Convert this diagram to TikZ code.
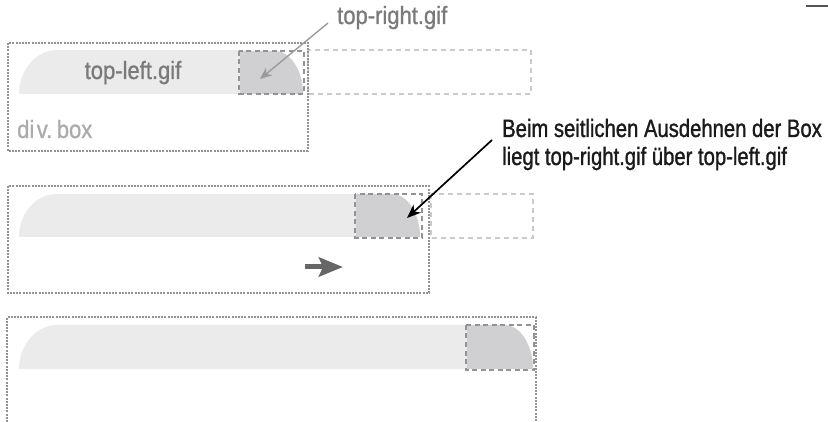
\documentclass[tikz,border=0pt]{standalone}
\usepackage{fontspec}
\setmainfont{Liberation Sans}[FakeStretch=0.88,FakeBold=1.0]
\newfontfamily\notefont{Liberation Sans}[FakeStretch=0.81,FakeBold=1.2]
\usetikzlibrary{arrows.meta}
\definecolor{barlight}{HTML}{EBEBEB}
\definecolor{piece}{HTML}{D0D0D2}
\definecolor{dotc}{HTML}{939393}
\definecolor{dashdark}{HTML}{939393}
\definecolor{dashlight}{HTML}{CACACA}
\definecolor{lbl}{HTML}{7A7A7A}
\definecolor{lbllight}{HTML}{ABABAB}
\definecolor{leader}{HTML}{9A9A9A}
\definecolor{movearrow}{HTML}{666666}
\definecolor{markc}{HTML}{555555}
\definecolor{notec}{HTML}{1A1A1A}
\begin{document}
\begin{tikzpicture}[x=1pt,y=-1pt,
  txt/.style={inner sep=0pt,font=\fontsize{25}{28}\selectfont},
  notetxt/.style={inner sep=0pt,text=notec,font=\notefont\fontsize{25}{28}\selectfont},
  dotbox/.style={draw=dotc,line width=2pt,dash pattern=on 2pt off 1.2pt},
  darkdash/.style={draw=dashdark,line width=2.2pt,dash pattern=on 5pt off 3.5pt},
  lightdash/.style={draw=dashlight,line width=1.6pt,dash pattern=on 5pt off 4pt},
  leaderarrow/.style={draw=leader,line width=1.4pt,-{Stealth[length=12pt,width=10pt]}},
  notearrow/.style={draw=black,line width=1.7pt,-{Stealth[length=14pt,width=11pt]}},
  movearr/.style={draw=movearrow,line width=5pt,-{Stealth[length=24pt,width=19pt,inset=4pt]}},
  cornerline/.style={draw=markc,line width=1.5pt}
]
\useasboundingbox (0,0) rectangle (828,422);

% ---------- panel 1 ----------
\fill[barlight] (19,94) .. controls (19,70) and (36,50) .. (57,50) -- (240,50) -- (240,94) -- cycle;
\fill[piece] (240,94) -- (240,51) -- (275,51) .. controls (290,51) and (303,70) .. (303,94) -- cycle;
\draw[lightdash] (308,50) rectangle (531,94);
\draw[darkdash] (239,51) rectangle (304,94);
\draw[dotbox] (8,43) rectangle (308,151);
\node[txt,text=lbl,anchor=base] (tl) at (133,79) {top-left.gif};
\node[txt,text=lbllight,anchor=base west] (div) at (17,138) {\spaceskip=0.1em\relax di v. box};
\node[txt,text=lbl,anchor=base west] (tr) at (337,24) {top-right.gif};
\coordinate (trstart) at (328,23);
\coordinate (trtip) at (260,79);
\draw[leaderarrow] (trstart) -- (trtip);

% ---------- panel 2 ----------
\fill[barlight] (19,237) .. controls (19,213) and (36,194) .. (57,194) -- (356,194) -- (356,237) -- cycle;
\fill[piece] (356,237) -- (356,194) -- (392,194) .. controls (407,194) and (420,213) .. (420,237) -- cycle;
\draw[lightdash] (431,194) rectangle (533,238);
\draw[darkdash] (355,194) rectangle (422,238);
\draw[dotbox] (8,186) rectangle (429,293);
\coordinate (mvs) at (305,267);
\coordinate (mve) at (343,267);
\draw[movearr] (mvs) -- (mve);

% ---------- panel 3 ----------
\fill[barlight] (19,369) .. controls (19,345) and (36,325) .. (57,325) -- (467,325) -- (467,369) -- cycle;
\fill[piece] (467,369) -- (467,325) -- (505,325) .. controls (520,325) and (533,345) .. (533,369) -- cycle;
\draw[darkdash] (466,325) rectangle (534,370);
\draw[dotbox] (7,422) -- (7,317) -- (536,317) -- (536,422);

% ---------- note ----------
\node[notetxt,anchor=base west] (n1) at (502,137) {Beim seitlichen Ausdehnen der Box};
\node[notetxt,anchor=base west] (n2) at (502,165) {liegt top-right.gif über top-left.gif};
\coordinate (ns) at (492,140);
\coordinate (nt) at (407,218);
\draw[notearrow] (ns) -- (nt);

% ---------- corner mark ----------
\coordinate (m1) at (806,6);
\coordinate (m2) at (828,6);
\draw[cornerline] (m1) -- (m2);
\end{tikzpicture}
\end{document}
